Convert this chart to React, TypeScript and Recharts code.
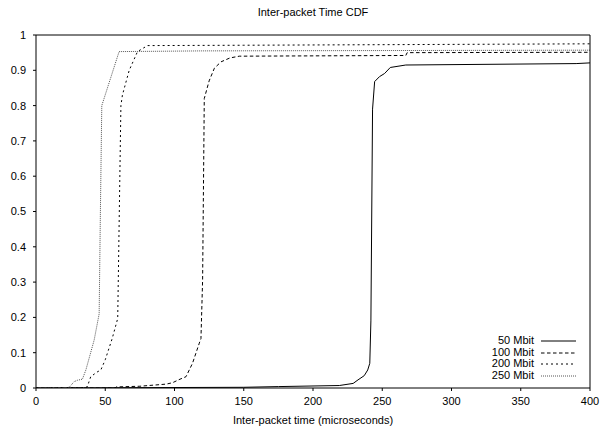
import React from 'react';
import { LineChart, Line, XAxis, YAxis, Legend } from 'recharts';

const FONT = '"Liberation Sans", Arial, Helvetica, sans-serif';

const seriesNames = ['50 Mbit', '100 Mbit', '200 Mbit', '250 Mbit'];

const x50 = [0, 150, 175, 219, 229, 232.5, 237, 239.5, 241, 241.8, 243, 244.5, 248, 251.7, 255.8, 267, 390, 400];
const y50 = [0, 0.002, 0.004, 0.007, 0.013, 0.023, 0.035, 0.051, 0.07, 0.19, 0.79, 0.868, 0.882, 0.891, 0.908, 0.915, 0.919, 0.921];

const x100 = [0, 57, 58, 75, 94, 98.6, 104, 108.3, 113, 117.9, 119.1, 120.3, 121.5, 125, 128.8, 133.6, 140, 146.8, 267, 268, 400];
const y100 = [0, 0, 0.003, 0.005, 0.011, 0.015, 0.025, 0.032, 0.07, 0.127, 0.14, 0.306, 0.82, 0.87, 0.906, 0.924, 0.935, 0.94, 0.942, 0.95, 0.951];

const x200 = [0, 33, 37, 39.5, 44, 46.8, 50, 55, 59, 61.3, 62.4, 67.3, 73.3, 80.5, 150, 400];
const y200 = [0, 0.001, 0.003, 0.032, 0.045, 0.051, 0.08, 0.14, 0.197, 0.8, 0.83, 0.9, 0.953, 0.97, 0.971, 0.975];

const x250 = [0, 20, 24, 27.5, 30, 33.5, 36, 42, 45.6, 46.5, 47.5, 60, 120, 400];
const y250 = [0, 0, 0.002, 0.018, 0.022, 0.025, 0.051, 0.136, 0.21, 0.5, 0.8, 0.953, 0.955, 0.957];

const xMajorTicks = [0, 50, 100, 150, 200, 250, 300, 350, 400];
const xMinorTicks = [25, 75, 125, 175, 225, 275, 325, 375];
const yTicks = [0, 0.1, 0.2, 0.3, 0.4, 0.5, 0.6, 0.7, 0.8, 0.9, 1];

const zip = (xs: number[], ys: number[]) => xs.map((x, i) => ({ x, y: ys[i] }));

const seriesData = [zip(x50, y50), zip(x100, y100), zip(x200, y200), zip(x250, y250)];
const seriesStroke = ['#000', '#000', '#000', '#555'];
const seriesDash = ['0', '3.5 2.5', '2 3', '1 1'];

const tickStyle = { fill: '#000', fontSize: 11, fontFamily: FONT };

const renderLegend = (props: any) => {
  const payload = [...(props.payload || [])].sort(
    (a: any, b: any) => seriesNames.indexOf(a.value) - seriesNames.indexOf(b.value)
  );
  return (
    <div style={{ fontFamily: FONT, fontSize: 11, color: '#000' }}>
      {payload.map((e: any) => {
        const idx = seriesNames.indexOf(e.value);
        return (
          <div
            key={e.value}
            style={{ display: 'flex', alignItems: 'center', justifyContent: 'flex-end', height: 11.7, lineHeight: '11.7px' }}
          >
            <span>{e.value}</span>
            <svg width={35} height={8} style={{ marginLeft: 7, display: 'block' }}>
              <line x1={0} y1={4} x2={35} y2={4} stroke={seriesStroke[idx]} strokeWidth={1} strokeDasharray={seriesDash[idx]} />
            </svg>
          </div>
        );
      })}
    </div>
  );
};

export default function App() {
  return (
    <div style={{ position: 'absolute', left: 0, top: 0, width: 600, height: 428, background: '#fff' }}>
      <div
        style={{
          position: 'absolute',
          left: 36,
          width: 554,
          top: 6,
          textAlign: 'center',
          fontFamily: FONT,
          fontSize: 11,
          lineHeight: '13px',
          color: '#000',
          zIndex: 2,
        }}
      >
        Inter-packet Time CDF
      </div>
      <LineChart width={600} height={428} margin={{ top: 35, right: 10, bottom: 0, left: 0 }}>
        <XAxis
          xAxisId={0}
          type="number"
          dataKey="x"
          domain={[0, 400]}
          ticks={xMajorTicks}
          interval={0}
          height={40}
          tickSize={3}
          tickMargin={6}
          tick={tickStyle}
          stroke="#000"
          allowDataOverflow
          label={{ value: 'Inter-packet time (microseconds)', position: 'insideBottom', offset: 4, fill: '#000', fontSize: 11, fontFamily: FONT }}
        />
        <XAxis
          xAxisId="bmin"
          type="number"
          dataKey="x"
          domain={[0, 400]}
          ticks={xMinorTicks}
          interval={0}
          orientation="bottom"
          mirror
          axisLine={false}
          tick={false}
          tickSize={-1.5}
          stroke="#000"
        />
        <XAxis
          xAxisId="tmaj"
          type="number"
          dataKey="x"
          domain={[0, 400]}
          ticks={xMajorTicks}
          interval={0}
          orientation="top"
          mirror
          tick={false}
          tickSize={-3}
          stroke="#000"
        />
        <XAxis
          xAxisId="tmin"
          type="number"
          dataKey="x"
          domain={[0, 400]}
          ticks={xMinorTicks}
          interval={0}
          orientation="top"
          mirror
          axisLine={false}
          tick={false}
          tickSize={-1.5}
          stroke="#000"
        />
        <YAxis
          yAxisId={0}
          type="number"
          domain={[0, 1]}
          ticks={yTicks}
          interval={0}
          width={36}
          tickSize={3}
          tickMargin={7}
          tick={tickStyle}
          stroke="#000"
          allowDataOverflow
        />
        <YAxis
          yAxisId="r"
          type="number"
          domain={[0, 1]}
          ticks={yTicks}
          interval={0}
          orientation="right"
          mirror
          tick={false}
          tickSize={-3}
          stroke="#000"
        />
        <Legend layout="vertical" align="center" verticalAlign="middle" content={renderLegend} wrapperStyle={{ left: 400, top: 335, width: 176 }} />
        {seriesNames.map((name, i) => (
          <Line
            key={name}
            name={name}
            data={seriesData[i]}
            dataKey="y"
            xAxisId={0}
            yAxisId={0}
            type="linear"
            stroke={seriesStroke[i]}
            strokeWidth={1}
            strokeDasharray={seriesDash[i]}
            dot={false}
            activeDot={false}
            isAnimationActive={false}
          />
        ))}
      </LineChart>
    </div>
  );
}
